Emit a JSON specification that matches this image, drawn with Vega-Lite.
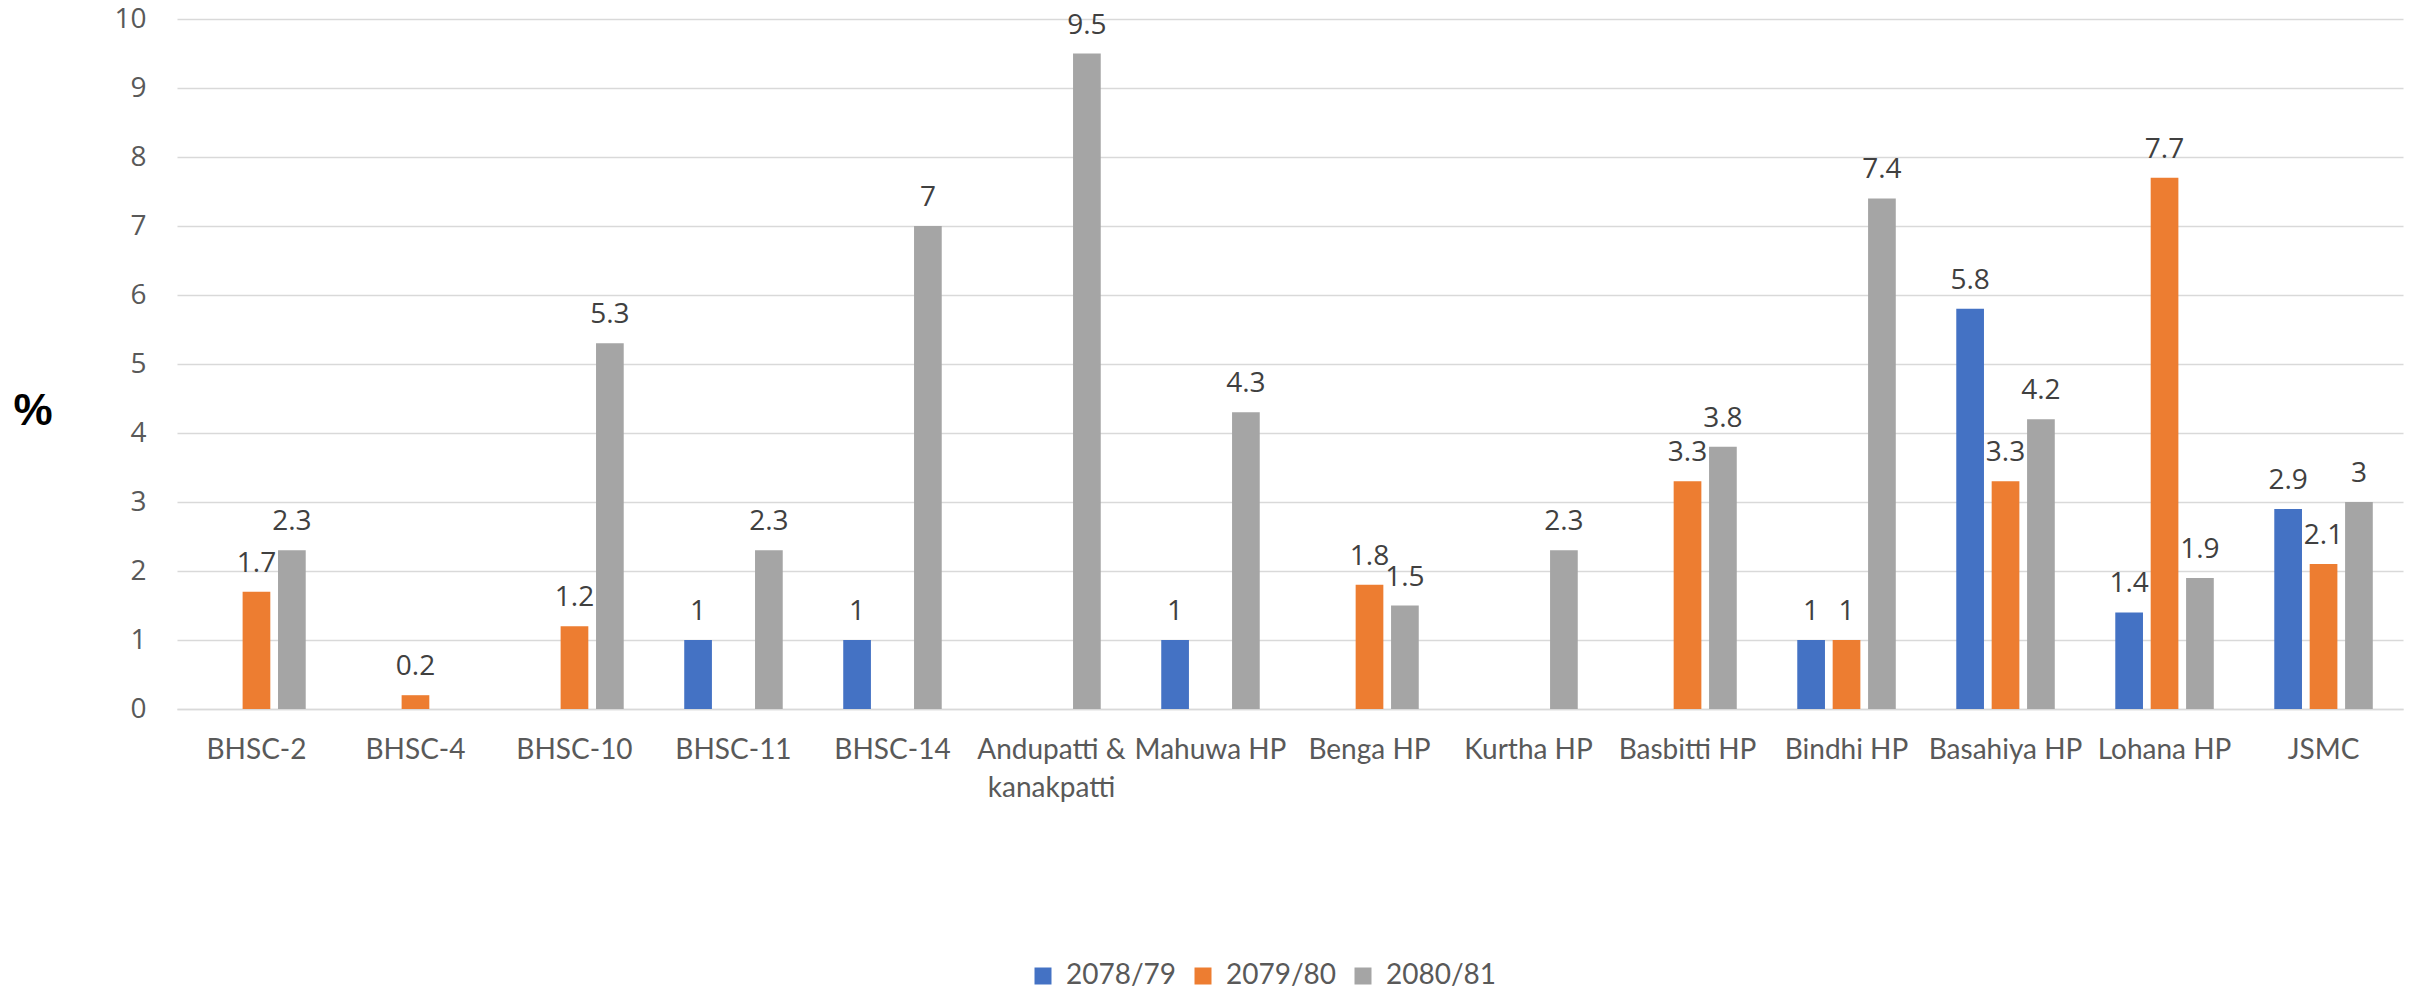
{
  "$schema": "https://vega.github.io/schema/vega-lite/v6.json",
  "autosize": {"type": "none"},
  "padding": {"left": 177, "top": 19, "right": 17, "bottom": 282},
  "width": 2226,
  "height": 690,
  "background": "white",
  "config": {"view": {"stroke": null}},
  "data": {"values": [
    {"site": "BHSC-2", "year": "2079/80", "value": 1.7},
    {"site": "BHSC-2", "year": "2080/81", "value": 2.3},
    {"site": "BHSC-4", "year": "2079/80", "value": 0.2},
    {"site": "BHSC-10", "year": "2079/80", "value": 1.2},
    {"site": "BHSC-10", "year": "2080/81", "value": 5.3},
    {"site": "BHSC-11", "year": "2078/79", "value": 1},
    {"site": "BHSC-11", "year": "2080/81", "value": 2.3},
    {"site": "BHSC-14", "year": "2078/79", "value": 1},
    {"site": "BHSC-14", "year": "2080/81", "value": 7},
    {"site": "Andupatti & kanakpatti", "year": "2080/81", "value": 9.5},
    {"site": "Mahuwa HP", "year": "2078/79", "value": 1},
    {"site": "Mahuwa HP", "year": "2080/81", "value": 4.3},
    {"site": "Benga HP", "year": "2079/80", "value": 1.8},
    {"site": "Benga HP", "year": "2080/81", "value": 1.5},
    {"site": "Kurtha HP", "year": "2080/81", "value": 2.3},
    {"site": "Basbitti HP", "year": "2079/80", "value": 3.3},
    {"site": "Basbitti HP", "year": "2080/81", "value": 3.8},
    {"site": "Bindhi HP", "year": "2078/79", "value": 1},
    {"site": "Bindhi HP", "year": "2079/80", "value": 1},
    {"site": "Bindhi HP", "year": "2080/81", "value": 7.4},
    {"site": "Basahiya HP", "year": "2078/79", "value": 5.8},
    {"site": "Basahiya HP", "year": "2079/80", "value": 3.3},
    {"site": "Basahiya HP", "year": "2080/81", "value": 4.2},
    {"site": "Lohana HP", "year": "2078/79", "value": 1.4},
    {"site": "Lohana HP", "year": "2079/80", "value": 7.7},
    {"site": "Lohana HP", "year": "2080/81", "value": 1.9},
    {"site": "JSMC", "year": "2078/79", "value": 2.9},
    {"site": "JSMC", "year": "2079/80", "value": 2.1},
    {"site": "JSMC", "year": "2080/81", "value": 3}
  ]},
  "encoding": {
    "x": {
      "field": "site", "type": "nominal",
      "sort": ["BHSC-2", "BHSC-4", "BHSC-10", "BHSC-11", "BHSC-14", "Andupatti & kanakpatti", "Mahuwa HP", "Benga HP", "Kurtha HP", "Basbitti HP", "Bindhi HP", "Basahiya HP", "Lohana HP", "JSMC"],
      "scale": {"paddingInner": 0.3805, "paddingOuter": 0.19},
      "axis": {
        "title": null, "labelAngle": 0, "ticks": false, "tickSize": 0,
        "labelPadding": 27, "labelFont": "Lato", "labelFontSize": 28,
        "labelColor": "#595959", "labelLineHeight": 38, "labelOverlap": false,
        "labelBound": false,
        "labelExpr": "datum.value == 'Andupatti & kanakpatti' ? ['Andupatti &', 'kanakpatti'] : datum.value",
        "domainColor": "#D9D9D9", "domainWidth": 1.5, "grid": false
      }
    },
    "xOffset": {
      "field": "year", "type": "nominal",
      "scale": {"domain": ["2078/79", "2079/80", "2080/81"], "paddingInner": 0.2175, "paddingOuter": 0}
    },
    "y": {
      "field": "value", "type": "quantitative",
      "scale": {"domain": [0, 10], "nice": false},
      "axis": {
        "title": "%", "titleAngle": 0, "titleFont": "Liberation Sans", "titleFontSize": 44,
        "titleFontWeight": "bold", "titleColor": "#000000",
        "titleX": -144.5, "titleY": 392, "titleAlign": "center", "titleBaseline": "middle",
        "values": [0, 1, 2, 3, 4, 5, 6, 7, 8, 9, 10],
        "domain": false, "ticks": false, "tickSize": 0, "labelPadding": 31,
        "labelFont": "Open Sans", "labelFontSize": 28, "labelColor": "#595959",
        "gridColor": "#D9D9D9", "gridWidth": 1.5
      }
    }
  },
  "layer": [
    {
      "mark": {"type": "bar"},
      "encoding": {
        "color": {
          "field": "year", "type": "nominal",
          "scale": {"domain": ["2078/79", "2079/80", "2080/81"], "range": ["#4472C4", "#ED7D31", "#A5A5A5"]},
          "legend": {
            "title": null, "orient": "none", "direction": "horizontal",
            "legendX": 852, "legendY": 943, "padding": 0,
            "symbolType": "square", "symbolSize": 289, "symbolStrokeWidth": 0,
            "labelFont": "Lato", "labelFontSize": 28, "labelColor": "#595959",
            "labelOffset": 9, "columnPadding": 12
          }
        }
      }
    },
    {
      "mark": {"type": "text", "baseline": "alphabetic", "align": "center", "dy": -20, "font": "Open Sans", "fontSize": 28, "color": "#404040"},
      "encoding": {"text": {"field": "value", "type": "quantitative"}}
    }
  ]
}
